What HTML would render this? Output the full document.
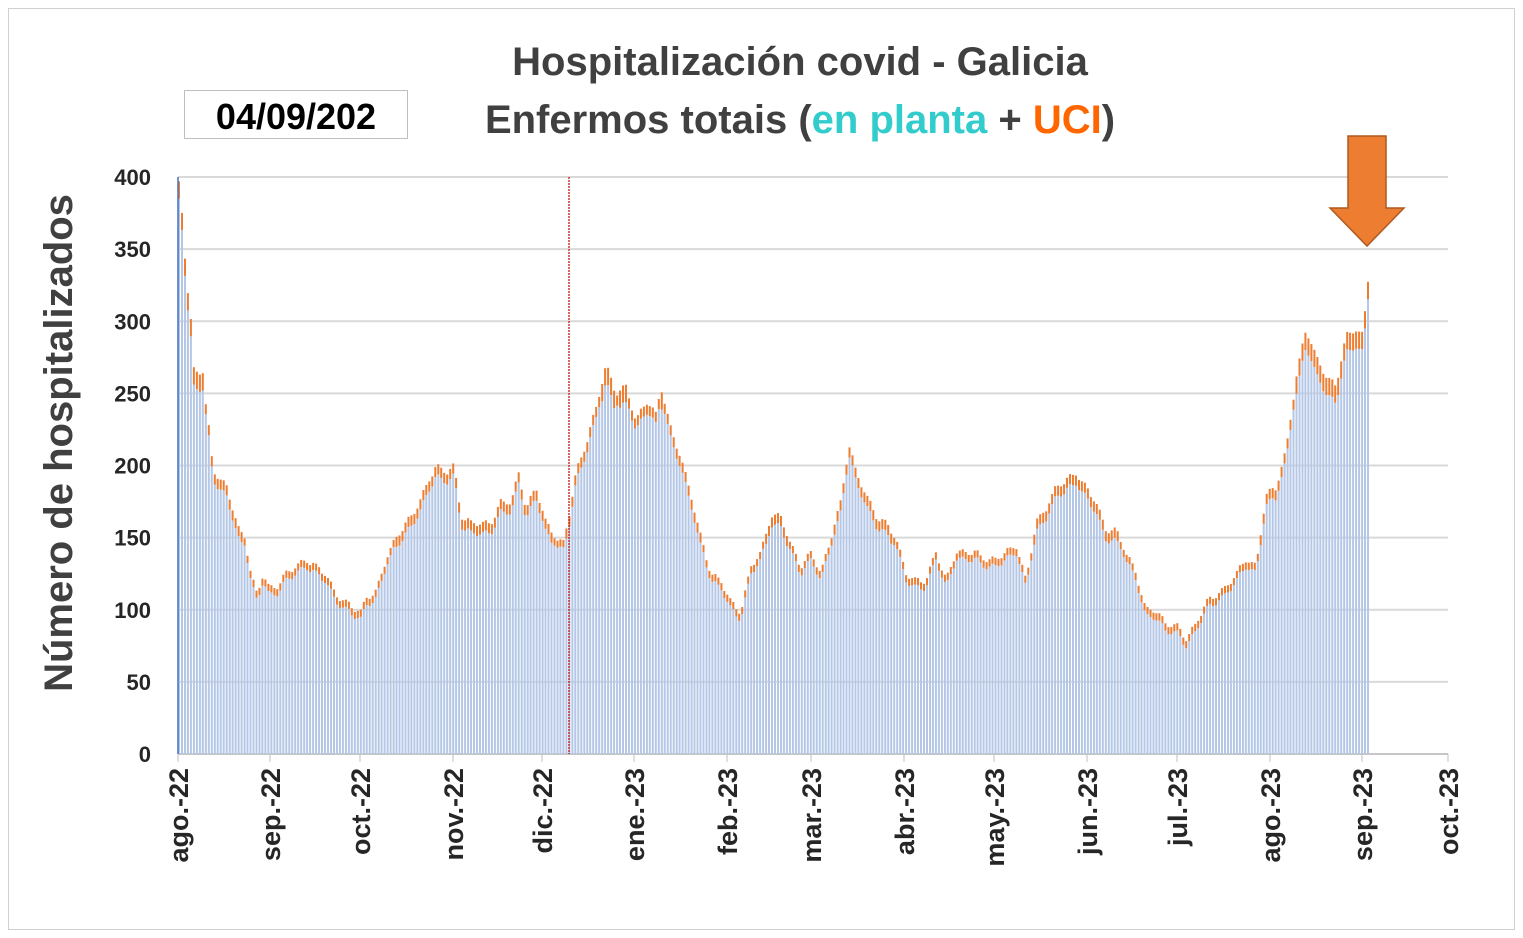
<!DOCTYPE html>
<html><head><meta charset="utf-8"><style>
body{margin:0;background:#fff;}
svg{display:block;font-family:"Liberation Sans",sans-serif;}
</style></head><body>
<svg id="s" width="1523" height="938" xmlns="http://www.w3.org/2000/svg">
<rect x="8.5" y="8.5" width="1506" height="921" fill="#fff" stroke="#d0d0d0"/>
<g id="grid"></g>
<g id="bars"></g>
<line x1="569" y1="177" x2="569" y2="754" stroke="#c00000" stroke-width="1.2" stroke-dasharray="2,1"/>
<line x1="178" y1="177" x2="178" y2="754" stroke="#4472c4" stroke-width="1.5"/>
<text x="800" y="75" text-anchor="middle" font-size="40" font-weight="bold" fill="#404040">Hospitalización covid - Galicia</text>
<text x="800" y="133" text-anchor="middle" font-size="40" font-weight="bold" fill="#404040">Enfermos totais (<tspan fill="#33cccc">en planta</tspan> + <tspan fill="#ff6600">UCI</tspan>)</text>
<rect x="184.5" y="90.5" width="223" height="48" fill="#fff" stroke="#bfbfbf"/>
<text x="296" y="129" text-anchor="middle" font-size="36" font-weight="bold" fill="#000">04/09/202</text>
<text transform="translate(72,443) rotate(-90)" text-anchor="middle" font-size="40" font-weight="bold" fill="#404040">Número de hospitalizados</text>
<polygon points="1348,136 1386,136 1386,208 1404,208 1367,246 1330,208 1348,208" fill="#ed7d31" stroke="#ae5a21" stroke-width="1.5"/>
<g id="lab" font-weight="bold" fill="#262626"></g>
</svg>
<script>
var gridG=document.getElementById('grid'),barG=document.getElementById('bars'),labG=document.getElementById('lab');
var NS='http://www.w3.org/2000/svg';
function el(p,t,a,txt){var e=document.createElementNS(NS,t);for(var q in a)e.setAttribute(q,a[q]);if(txt)e.textContent=txt;p.appendChild(e);return e;}
function Y(v){return 754-v*1.4425;}
for(var v=0;v<=400;v+=50){el(gridG,'line',{x1:178,x2:1448,y1:Y(v),y2:Y(v),stroke:'#d9d9d9','stroke-width':2});
el(labG,'text',{x:151,y:Y(v)+8,'text-anchor':'end','font-size':22},String(v));}
el(gridG,'line',{x1:178,x2:1448,y1:754,y2:754,stroke:'#bfbfbf','stroke-width':1.5});
var months=[['ago.-22',178],['sep.-22',270],['oct.-22',360],['nov.-22',453],['dic.-22',542],['ene.-23',634],['feb.-23',727],['mar.-23',811],['abr.-23',904],['may.-23',994],['jun.-23',1087],['jul.-23',1177],['ago.-23',1270],['sep.-23',1362],['oct.-23',1448]];
months.forEach(function(m){el(gridG,'line',{x1:m[1],x2:m[1],y1:754,y2:762,stroke:'#bfbfbf'});
el(labG,'text',{transform:'translate('+(m[1]+10)+',768) rotate(-90)','text-anchor':'end','font-size':27},m[0]);});
var kp=[178,395,181,375,184,345,187,320,190,300,193,265,202,265,205,240,208,225,211,205,214,195,220,190,226,185,232,170,238,155,244,150,250,125,256,110,262,125,268,115,275,115,285,125,295,130,305,135,315,130,325,125,335,110,345,105,355,100,360,98,365,108,375,112,385,135,395,150,405,160,415,170,425,185,435,200,445,195,453,200,460,165,470,160,480,160,490,160,500,175,510,175,518,195,525,170,535,185,545,160,555,150,562,145,568,165,575,195,585,215,595,240,605,270,615,250,625,255,635,230,645,245,655,235,660,255,670,225,680,205,690,180,700,150,710,125,720,120,730,105,740,98,750,130,760,140,770,165,780,165,790,145,800,130,810,140,820,125,830,150,840,175,848,215,855,195,865,180,875,165,885,160,895,150,905,125,915,120,925,120,935,140,945,120,955,140,965,140,975,140,985,135,995,135,1005,140,1015,145,1025,120,1035,160,1045,170,1055,185,1065,190,1075,195,1085,185,1095,175,1105,155,1115,155,1125,140,1135,125,1145,100,1155,100,1165,90,1175,90,1185,80,1195,90,1205,105,1215,110,1225,115,1235,125,1245,135,1255,130,1265,180,1275,185,1285,210,1295,260,1305,295,1315,275,1325,262,1335,255,1345,290,1355,295,1362,290,1368,337];
function f(x){for(var i=0;i<kp.length-2;i+=2){if(x<=kp[i+2]){var t=(x-kp[i])/(kp[i+2]-kp[i]);return kp[i+1]+t*(kp[i+3]-kp[i+1]);}}return kp[kp.length-1];}
for(var x=178;x<=1369;x+=2.98){var val=f(x)+((Math.sin(x*1.7)*3)|0);var u=val>250?12:(val>150?7:5);
var ty=Y(val),my=Y(val-u);
el(barG,'rect',{x:x.toFixed(1),y:my.toFixed(1),width:2,height:(754-my).toFixed(1),fill:'#b4c7e7'});
el(barG,'rect',{x:x.toFixed(1),y:ty.toFixed(1),width:2,height:(my-ty).toFixed(1),fill:'#ed7d31'});}
</script>
</body></html>
